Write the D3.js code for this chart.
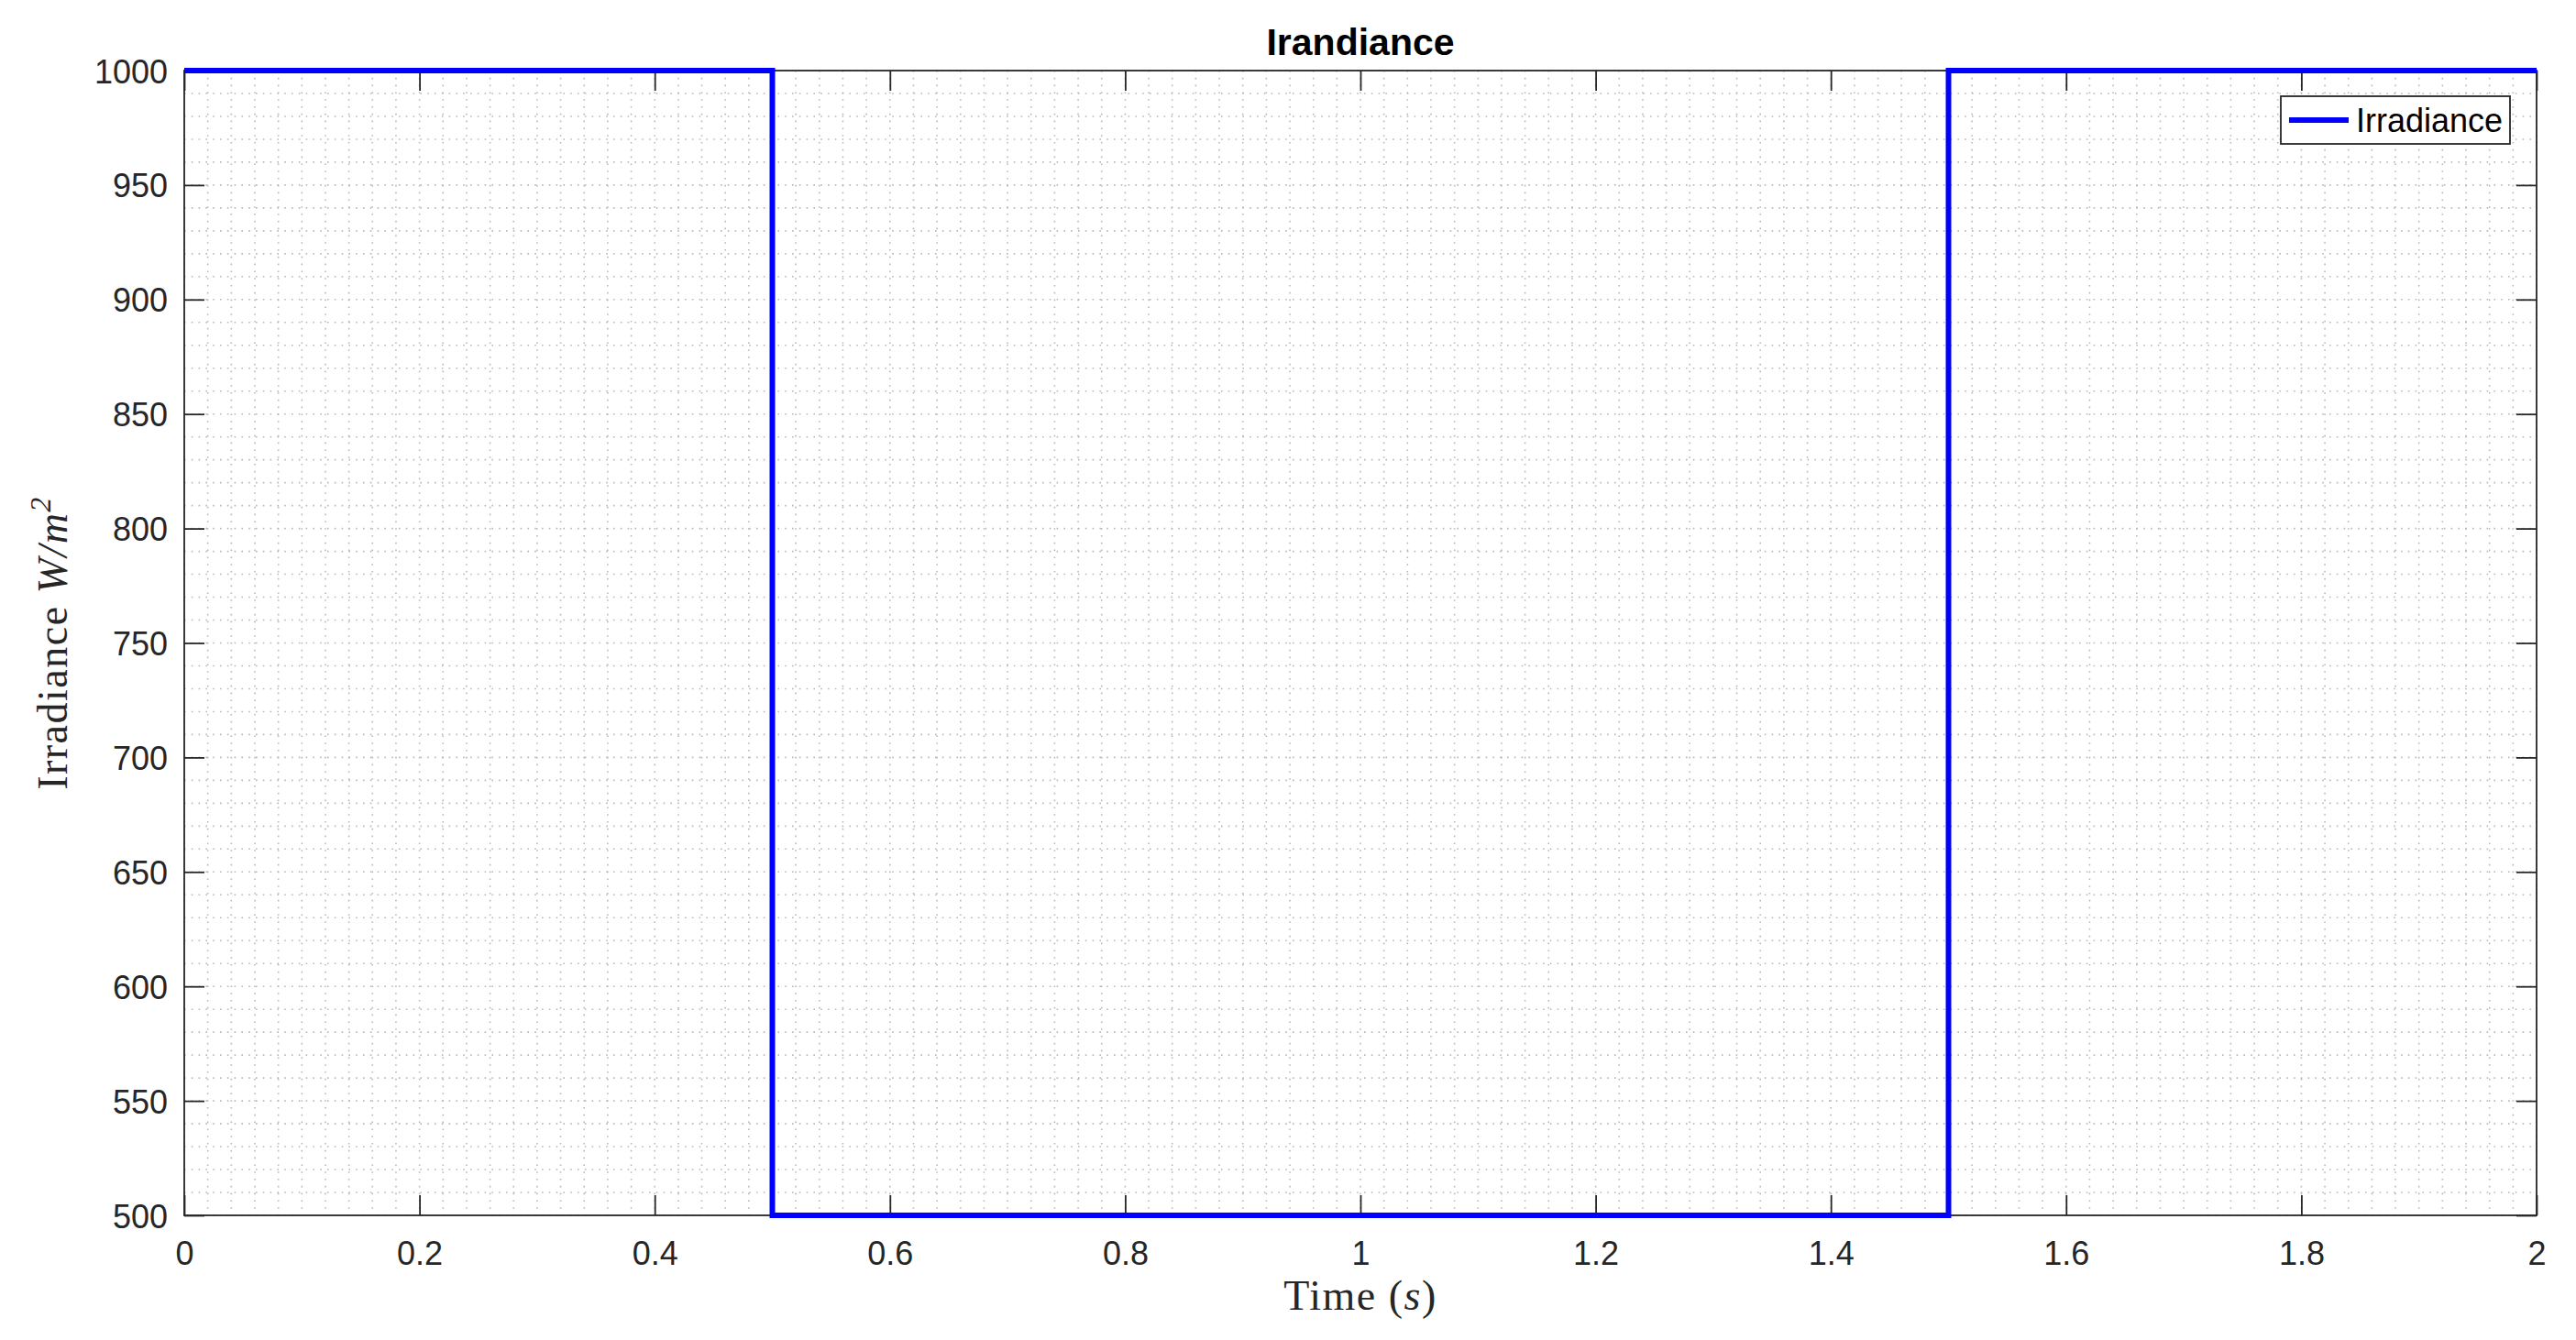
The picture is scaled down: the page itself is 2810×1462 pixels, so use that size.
<!DOCTYPE html>
<html><head><meta charset="utf-8">
<script src="https://cdn.jsdelivr.net/npm/d3@7"></script>
<style>html,body{margin:0;padding:0;background:#fff;}</style>
</head><body>
<script>
const timeValues = [0, 0.5, 0.5, 1.5, 1.5, 2];
const irradianceValues = [1000, 1000, 500, 500, 1000, 1000];
const xTicks = [0, 0.2, 0.4, 0.6, 0.8, 1, 1.2, 1.4, 1.6, 1.8, 2];
const yTicks = [500, 550, 600, 650, 700, 750, 800, 850, 900, 950, 1000];
const xMinor = d3.range(0, 101).map(i => i * 0.02);
const yMinor = d3.range(0, 51).map(i => 500 + i * 10);
const seriesName = "Irradiance";
const titleText = "Irandiance";

const W = 2810, H = 1462;
const L = 201, R = 2767, T = 77, B = 1326;
const svg = d3.select("body").append("svg").attr("width", W).attr("height", H)
  .style("font-family", "'Liberation Sans', Arial, sans-serif");
svg.append("rect").attr("width", W).attr("height", H).attr("fill", "#fff");

const x = d3.scaleLinear().domain([0, 2]).range([L, R]);
const y = d3.scaleLinear().domain([500, 1000]).range([B, T]);

// grid (dotted)
const g = svg.append("g");
g.selectAll("line.vx").data(xMinor).enter().append("line")
  .attr("x1", d => x(d)).attr("x2", d => x(d)).attr("y1", T).attr("y2", B)
  .attr("stroke", "#b8b8b8").attr("stroke-width", 1.6).attr("stroke-dasharray", "1.6,6.2");
g.selectAll("line.hy").data(yMinor).enter().append("line")
  .attr("y1", d => y(d)).attr("y2", d => y(d)).attr("x1", L).attr("x2", R)
  .attr("stroke", "#b8b8b8").attr("stroke-width", 1.6).attr("stroke-dasharray", "1.6,6.2");

// axes box
svg.append("rect").attr("x", L).attr("y", T).attr("width", R - L).attr("height", B - T)
  .attr("fill", "none").attr("stroke", "#262626").attr("stroke-width", 1.8);

const tl = 22;
const axB = d3.axisBottom(x).tickValues(xTicks).tickSize(-tl).tickFormat(d3.format("~g")).tickPadding(0);
const axT = d3.axisTop(x).tickValues(xTicks).tickSize(-tl).tickFormat("");
const axL = d3.axisLeft(y).tickValues(yTicks).tickSize(-tl).tickFormat(d3.format("d"));
const axR = d3.axisRight(y).tickValues(yTicks).tickSize(-tl).tickFormat("");

function style(sel) {
  sel.select(".domain").remove();
  sel.selectAll(".tick line").attr("stroke", "#262626").attr("stroke-width", 1.8);
  sel.selectAll(".tick text").attr("fill", "#262626").style("font-size", "36px")
    .style("font-family", "'Liberation Sans', Arial, sans-serif");
}
const gb = svg.append("g").attr("transform", `translate(0,${B})`).call(axB).call(style);
gb.selectAll(".tick text").attr("dy", null).attr("y", 54);
svg.append("g").attr("transform", `translate(0,${T})`).call(axT).call(style);
const gl = svg.append("g").attr("transform", `translate(${L},0)`).call(axL).call(style);
gl.selectAll(".tick text").attr("dy", null).attr("x", -18).attr("y", 13);
svg.append("g").attr("transform", `translate(${R},0)`).call(axR).call(style);

// series
const pts = timeValues.map((t, i) => [t, irradianceValues[i]]);
const line = d3.line().x(d => x(d[0])).y(d => y(d[1]));
svg.append("path").datum(pts).attr("d", line).attr("fill", "none")
  .attr("stroke", "#0000ff").attr("stroke-width", 6).attr("stroke-linejoin", "miter");

// title
svg.append("text").attr("x", (L + R) / 2).attr("y", 60).attr("text-anchor", "middle")
  .style("font-size", "41px").style("font-weight", "bold").attr("fill", "#000").text(titleText);

// x label
const xl = svg.append("text").attr("x", (L + R) / 2).attr("y", 1429).attr("text-anchor", "middle")
  .style("font-family", "'Liberation Serif', 'DejaVu Serif', serif").style("font-size", "46px")
  .style("letter-spacing", "1.5px").attr("fill", "#262626");
xl.append("tspan").text("Time (");
xl.append("tspan").style("font-style", "italic").text("s");
xl.append("tspan").text(")");

// y label
const yl = svg.append("text").attr("transform", `translate(73,${(T + B) / 2}) rotate(-90)`).attr("text-anchor", "middle")
  .style("font-family", "'Liberation Serif', 'DejaVu Serif', serif").style("font-size", "46px")
  .style("letter-spacing", "1.5px").attr("fill", "#262626");
yl.append("tspan").text("Irradiance ");
yl.append("tspan").style("font-style", "italic").text("W/m");
yl.append("tspan").style("font-style", "italic").style("font-size", "32px").attr("dy", -18).text("2");

// legend
const lg = svg.append("g");
lg.append("rect").attr("x", 2488).attr("y", 105).attr("width", 250).attr("height", 52)
  .attr("fill", "#fff").attr("stroke", "#262626").attr("stroke-width", 1.8);
lg.append("line").attr("x1", 2497).attr("x2", 2562).attr("y1", 131).attr("y2", 131)
  .attr("stroke", "#0000ff").attr("stroke-width", 6);
lg.append("text").attr("x", 2570).attr("y", 144).style("font-size", "36px").attr("fill", "#000").text(seriesName);
</script>
</body></html>
